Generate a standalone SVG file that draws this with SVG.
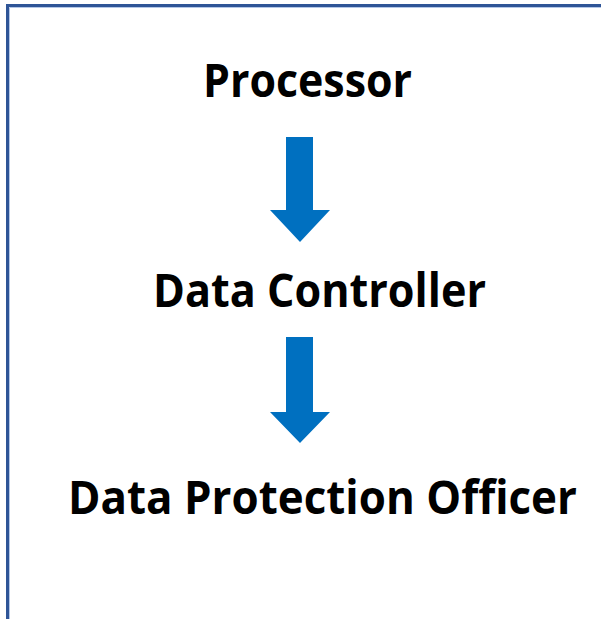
<svg xmlns="http://www.w3.org/2000/svg" width="601" height="619" viewBox="0 0 601 619">
<style>
.lbl{font-family:"Open Sans","Noto Sans","Liberation Sans",sans-serif;font-weight:bold;font-size:46px;fill:#000}
.arr{fill:#0070c0}
</style>
<rect x="0" y="0" width="601" height="619" fill="#fff"/>
<path d="M7.5,619 V5.5 H601" fill="none" stroke="#2f5597" stroke-width="3"/>
<path d="M9.5,619 V7.5 H601" fill="none" stroke="#b4c7e7" stroke-width="1"/>
<g id="node-processor"><text class="lbl" x="203" y="97" textLength="209" lengthAdjust="spacingAndGlyphs">Processor</text></g>
<g id="node-controller"><text class="lbl" x="153" y="307" textLength="333" lengthAdjust="spacingAndGlyphs">Data Controller</text></g>
<g id="node-dpo"><text class="lbl" x="68" y="514" textLength="509" lengthAdjust="spacingAndGlyphs">Data Protection Officer</text></g>
<g id="connectors">
<path class="arr" d="M286,137 H313 V210 H330 L300,242 L270,210 H286 Z"/>
<path class="arr" d="M286,337 H313 V412 H330 L300,443 L270,412 H286 Z"/>
</g>
</svg>
